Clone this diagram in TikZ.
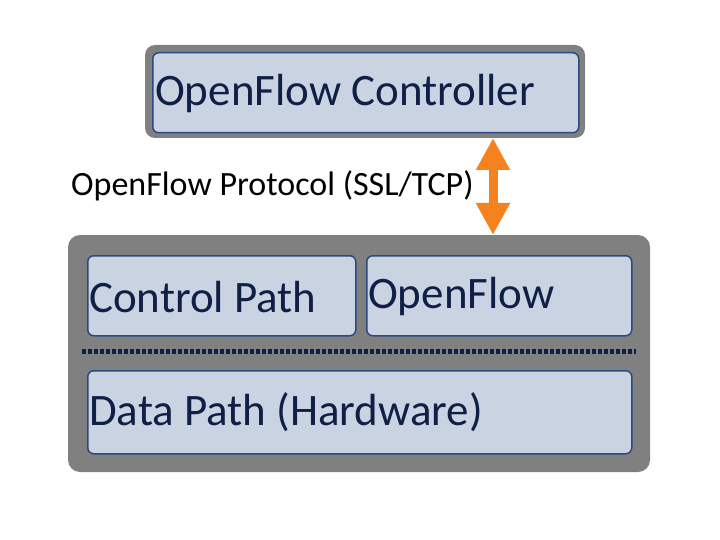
\documentclass[tikz,border=0pt]{standalone}
\usepackage{fontspec}
\setmainfont{Carlito}
\usetikzlibrary{arrows.meta}
\definecolor{boxfill}{HTML}{C9D3E2}
\definecolor{boxline}{HTML}{2A4A80}
\definecolor{navy}{HTML}{0F1F45}
\definecolor{outer}{HTML}{808080}
\definecolor{orng}{HTML}{F5821F}
\begin{document}
\begin{tikzpicture}[x=1pt,y=-1pt,
  inner/.style={fill=boxfill,draw=boxline,line width=1.5pt,rounded corners=6pt},
  lbl/.style={font=\fontsize{45}{50}\selectfont,text=navy,anchor=west,inner sep=0pt}]
\useasboundingbox (0,0) rectangle (720,540);
\fill[outer,rounded corners=10pt] (145,45) rectangle (585,138);
\node[inner,minimum width=426pt,minimum height=80pt,anchor=north west] (ctrl) at (152,52) {};
\node[lbl] (ctrlt) at (155,94) {OpenFlow Controller};
\fill[outer,rounded corners=12pt] (68,235) rectangle (650,472);
\coordinate (top) at (493,138);
\coordinate (bot) at (493,235);
\draw[orng,line width=9pt,{Triangle[width=32pt,length=32pt]}-{Triangle[width=32pt,length=32pt]}] (top) -- (bot);
\node[anchor=west,inner sep=0pt,font=\fontsize{34}{38}\selectfont] (proto) at (71,186) {OpenFlow Protocol (SSL/TCP)};
\node[inner,minimum width=268pt,minimum height=80pt,anchor=north west] (cp) at (87,255) {};
\node[lbl] at (89,297) {Control Path};
\node[inner,minimum width=265pt,minimum height=80pt,anchor=north west] (of) at (366,255) {};
\node[lbl] at (368,297) {OpenFlow};
\coordinate (d1) at (82,351);
\coordinate (d2) at (636,351);
\draw[navy,line width=5pt,dash pattern=on 4pt off 2pt] (d1) -- (d2);
\node[inner,minimum width=544pt,minimum height=83pt,anchor=north west] (dp) at (87,370) {};
\node[lbl] at (89,412) {Data Path (Hardware)};
\end{tikzpicture}
\end{document}
